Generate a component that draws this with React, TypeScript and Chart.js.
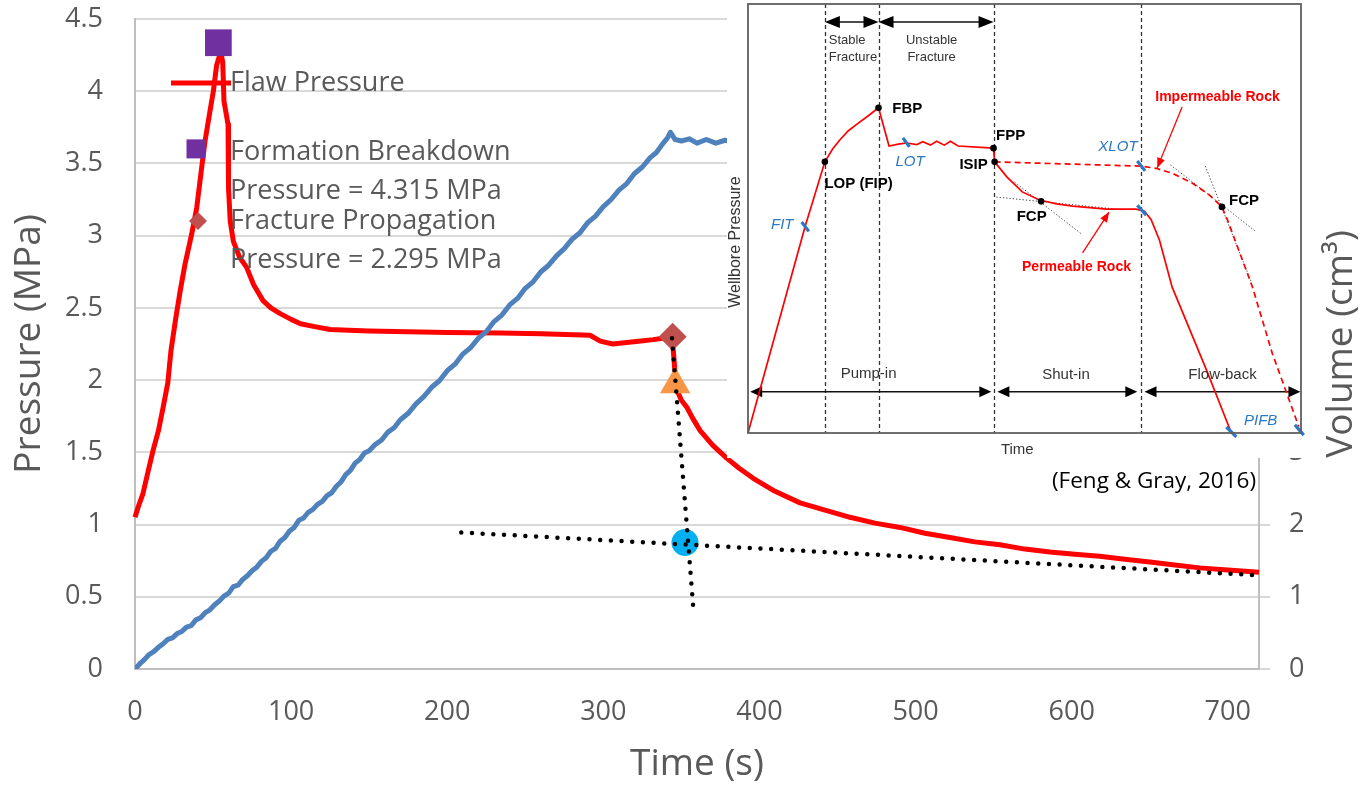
import React, { useEffect, useRef } from 'react';
import { Chart, registerables } from 'chart.js';

Chart.register(...registerables);

// ---------------- main chart data ----------------
const timeTickValues = [0, 100, 200, 300, 400, 500, 600, 700];
const timeTickLabels = ['0', '100', '200', '300', '400', '500', '600', '700'];
const pressureTickValues = [0, 0.5, 1, 1.5, 2, 2.5, 3, 3.5, 4, 4.5];
const pressureTickLabels = ['0', '0.5', '1', '1.5', '2', '2.5', '3', '3.5', '4', '4.5'];
const volumeTickValues = [0, 1, 2, 3, 4, 5, 6, 7, 8, 9];
const volumeTickLabels = ['0', '1', '2', '3', '4', '5', '6', '7', '8', '9'];

const flawTime = [
  0, 2, 5, 8, 11.5, 15, 18, 21, 23, 26, 29, 32, 36.3, 39.5, 42.7, 44.8, 48, 50.2, 52.3, 54, 55.3, 56.2, 57,
  59.6, 59.9, 61, 63, 67, 71.5, 76, 82, 87, 93, 100, 106, 115, 125, 137, 150, 175, 200, 234, 260, 291.5,
  298, 306, 315, 324, 332, 338, 344, 344.7, 346, 347.2, 350, 353.6, 357, 362, 370, 379, 387, 396, 410, 426,
  442, 458, 474, 490, 506, 522, 538, 554, 570, 586, 602, 618, 634, 650, 666, 682, 700, 720,
];
const flawPressure = [
  1.05, 1.12, 1.21, 1.35, 1.51, 1.65, 1.81, 1.98, 2.2, 2.42, 2.62, 2.8, 3.01, 3.19, 3.47, 3.65, 3.86, 4.0, 4.18, 4.24, 4.25, 4.2, 3.93,
  3.77, 3.33, 3.1, 2.96, 2.85, 2.78, 2.66, 2.55, 2.5, 2.46, 2.42, 2.39, 2.37, 2.35, 2.345, 2.34, 2.335, 2.33, 2.325, 2.32, 2.31,
  2.27, 2.25, 2.26, 2.27, 2.28, 2.29, 2.3, 2.22, 2.04, 1.93, 1.86, 1.81, 1.74, 1.65, 1.55, 1.46, 1.39, 1.32, 1.23, 1.15,
  1.1, 1.05, 1.01, 0.98, 0.94, 0.91, 0.88, 0.86, 0.83, 0.81, 0.795, 0.78, 0.76, 0.74, 0.72, 0.7, 0.685, 0.67,
];

const volumeTime = [
  0, 3, 6, 9, 12, 15, 18, 21, 24, 27, 30, 33, 36, 39, 42, 45, 48, 51, 54, 57, 60, 63, 66, 69, 72, 75, 78, 81, 84, 87,
  90, 93, 96, 99, 102, 105, 108, 111, 114, 117, 120, 123, 126, 129, 132, 135, 138, 141, 144, 147, 150, 154, 158, 162,
  166, 170, 175, 180, 185, 190, 195, 200, 205, 210, 215, 220, 225, 230, 235, 240, 245, 250, 255, 260, 265, 270, 275,
  280, 285, 290, 295, 300, 305, 310, 315, 320, 325, 330, 334, 338, 341, 343, 346, 350, 355, 360, 366, 372, 378, 384,
  400, 450, 500, 600, 720,
];
const volumeValues = [
  0, 0.07, 0.13, 0.2, 0.24, 0.3, 0.35, 0.41, 0.43, 0.49, 0.52, 0.58, 0.6, 0.68, 0.71, 0.78, 0.82, 0.89, 0.94, 1.01, 1.05, 1.14, 1.16, 1.24,
  1.29, 1.36, 1.41, 1.49, 1.54, 1.63, 1.67, 1.77, 1.82, 1.91, 1.96, 2.06, 2.09, 2.17, 2.21, 2.28, 2.32, 2.4, 2.44, 2.53, 2.59,
  2.69, 2.75, 2.85, 2.9, 2.99, 3.02, 3.11, 3.17, 3.28, 3.34, 3.45, 3.54, 3.67, 3.77, 3.9, 3.99, 4.13, 4.22, 4.36, 4.45, 4.58,
  4.67, 4.81, 4.9, 5.04, 5.13, 5.27, 5.36, 5.5, 5.59, 5.72, 5.82, 5.95, 6.04, 6.18, 6.27, 6.4, 6.5, 6.63, 6.72, 6.86, 6.95,
  7.08, 7.15, 7.27, 7.35, 7.43, 7.33, 7.31, 7.34, 7.28, 7.33, 7.28, 7.32, 7.29, 7.3, 7.3, 7.3, 7.3, 7.3,
];

const breakdownTime = [53.4];
const breakdownPressure = [4.335];
const propagationTime = [344.4];
const propagationPressure = [2.3];
const closureTime = [346];
const closurePressure = [1.97];
const intersectionTime = [352.3];
const intersectionPressure = [0.876];
const shutInTangentTime = [344, 357.5];
const shutInTangentPressure = [2.29, 0.44];
const lateTangentTime = [209, 717.5];
const lateTangentPressure = [0.945, 0.65];

const legendFlaw = 'Flaw Pressure';
const legendBreakdown = ['Formation Breakdown', 'Pressure = 4.315 MPa'];
const legendPropagation = ['Fracture Propagation', 'Pressure = 2.295 MPa'];
const citation = '(Feng & Gray, 2016)';

// ---------------- inset (schematic) data, arbitrary units 0-100 ----------------
const permeableTime = [
  0, 10.3, 13.9, 15.3, 16.6, 18.1, 19.7, 21.7, 23.6, 25.5, 27.4, 28.7, 30.5, 31.6, 33.0, 34.1, 35.5, 36.6, 38.0,
  44.4, 44.6, 46.8, 49.6, 52.7, 55.8, 58.7, 64.8, 70.2, 71.7, 72.9, 74.4, 76.7, 82.9, 87.2,
];
const permeablePressure = [
  0, 48.0, 63.2, 66.2, 68.3, 70.4, 72.0, 73.9, 75.8, 66.9, 67.4, 67.6, 67.2, 67.9, 67.1, 68.0, 67.1, 68.0, 66.9,
  66.4, 63.2, 59.7, 56.2, 54.3, 53.4, 52.9, 52.2, 52.2, 51.7, 49.7, 45.0, 34.0, 14.7, 0.7,
];
const impermeableTime = [44.6, 71.1, 73.8, 76.8, 80.4, 83.4, 85.7, 86.7, 91.2, 94.8, 99.6];
const impermeablePressure = [63.2, 62.2, 61.7, 60.5, 58.2, 55.5, 52.7, 49.7, 34.1, 18.6, 1.5];

const keyPointTime = [13.9, 23.6, 44.4, 44.6, 53.0, 85.7];
const keyPointPressure = [63.2, 75.8, 66.4, 63.2, 54.0, 52.7];

// short blue marks: start/end of each
const markStartTime = [9.7, 28.0, 70.4, 70.4, 86.5, 98.9];
const markStartPressure = [49.2, 68.8, 63.4, 53.1, 1.4, 1.9];
const markEndTime = [11.0, 29.2, 71.8, 72.0, 88.3, 100.5];
const markEndPressure = [47.0, 66.7, 61.1, 50.8, -0.9, -0.5];

// dotted tangent lines
const tangentStartTime = [44.9, 48.2, 76.4, 82.7];
const tangentStartPressure = [55.0, 58.5, 62.5, 62.2];
const tangentEndTime = [68.1, 60.3, 91.7, 91.0];
const tangentEndPressure = [52.0, 46.4, 47.1, 35.2];

const phaseBoundaries = [13.9, 23.6, 44.4, 71.1];
const topSpanStart = [13.9, 23.6];
const topSpanEnd = [23.6, 44.4];
const topSpanLevel = 95.8;
const bottomSpanStart = [0.4, 45.1, 71.7];
const bottomSpanEnd = [44.0, 70.4, 99.9];
const bottomSpanLevel = 9.6;

const pointerFromTime = [78.5, 60.5];
const pointerFromPressure = [76.0, 42.0];
const pointerToTime = [74.0, 65.3];
const pointerToPressure = [61.8, 51.5];

type InsetText = { text: string; u: number; v: number; kind: string; align?: CanvasTextAlign };
const insetTexts: InsetText[] = [
  { text: 'Stable', u: 14.6, v: 91.4, kind: 'small', align: 'left' },
  { text: 'Fracture', u: 14.6, v: 87.6, kind: 'small', align: 'left' },
  { text: 'Unstable', u: 33.2, v: 91.4, kind: 'small' },
  { text: 'Fracture', u: 33.2, v: 87.6, kind: 'small' },
  { text: 'Pump-in', u: 21.8, v: 13.7, kind: 'phase' },
  { text: 'Shut-in', u: 57.5, v: 13.5, kind: 'phase' },
  { text: 'Flow-back', u: 85.8, v: 13.5, kind: 'phase' },
  { text: 'Time', u: 48.7, v: -4.0, kind: 'phase' },
  { text: 'LOP (FIP)', u: 20.0, v: 58.0, kind: 'point' },
  { text: 'FBP', u: 28.8, v: 75.5, kind: 'point' },
  { text: 'FPP', u: 47.5, v: 69.2, kind: 'point' },
  { text: 'ISIP', u: 40.8, v: 62.6, kind: 'point' },
  { text: 'FCP', u: 51.3, v: 50.4, kind: 'point' },
  { text: 'FCP', u: 89.7, v: 54.1, kind: 'point' },
  { text: 'FIT', u: 6.2, v: 48.5, kind: 'test' },
  { text: 'LOT', u: 29.3, v: 63.1, kind: 'test' },
  { text: 'XLOT', u: 66.9, v: 66.7, kind: 'test' },
  { text: 'PIFB', u: 92.7, v: 2.9, kind: 'test' },
  { text: 'Impermeable Rock', u: 84.9, v: 78.2, kind: 'rock' },
  { text: 'Permeable Rock', u: 59.4, v: 38.6, kind: 'rock' },
];
const insetYTitle = { text: 'Wellbore Pressure', u: -2.3, v: 44.5 };

const FONT = '"Open Sans", sans-serif';
const IFONT = '"Liberation Sans", Arial, sans-serif';
const GREY_TEXT = '#595959';
const BLUE_MARK = '#2a78c6';

function pairs(xs: number[], ys: number[]) {
  return xs.map((x, i) => ({ x, y: ys[i] }));
}

function segments(x1: number[], y1: number[], x2: number[], y2: number[]) {
  const out: any[] = [];
  x1.forEach((x, i) => {
    out.push({ x, y: y1[i] });
    out.push({ x: x2[i], y: y2[i] });
    out.push({ x: x2[i], y: null });
  });
  return out;
}

function arrowHead(ctx: CanvasRenderingContext2D, tipX: number, tipY: number, fromX: number, fromY: number, len: number, half: number) {
  const ang = Math.atan2(tipY - fromY, tipX - fromX);
  const bx = tipX - len * Math.cos(ang);
  const by = tipY - len * Math.sin(ang);
  ctx.beginPath();
  ctx.moveTo(tipX, tipY);
  ctx.lineTo(bx + half * Math.sin(ang), by - half * Math.cos(ang));
  ctx.lineTo(bx - half * Math.sin(ang), by + half * Math.cos(ang));
  ctx.closePath();
  ctx.fill();
}

function doubleArrow(ctx: CanvasRenderingContext2D, x1: number, x2: number, y: number, len: number, half: number) {
  ctx.beginPath();
  ctx.moveTo(x1 + len * 0.5, y);
  ctx.lineTo(x2 - len * 0.5, y);
  ctx.stroke();
  arrowHead(ctx, x1, y, x2, y, len, half);
  arrowHead(ctx, x2, y, x1, y, len, half);
}

const mainDecorPlugin = {
  id: 'mainDecor',
  afterDraw(chart: any) {
    const ctx: CanvasRenderingContext2D = chart.ctx;
    const a = chart.chartArea;
    const lx = a.left;
    const ty = a.top;
    ctx.save();
    // legend symbols
    ctx.strokeStyle = '#ff0000';
    ctx.lineWidth = 5;
    ctx.beginPath();
    ctx.moveTo(lx + 36, ty + 64);
    ctx.lineTo(lx + 96, ty + 64);
    ctx.stroke();
    ctx.fillStyle = '#7030a0';
    ctx.fillRect(lx + 61 - 9.5, ty + 130 - 9.5, 19, 19);
    ctx.fillStyle = '#c0504d';
    ctx.beginPath();
    ctx.moveTo(lx + 63, ty + 202 - 9);
    ctx.lineTo(lx + 72, ty + 202);
    ctx.lineTo(lx + 63, ty + 202 + 9);
    ctx.lineTo(lx + 54, ty + 202);
    ctx.closePath();
    ctx.fill();
    // legend text
    ctx.fillStyle = GREY_TEXT;
    ctx.font = `27px ${FONT}`;
    ctx.textBaseline = 'middle';
    ctx.textAlign = 'left';
    const tx = lx + 95;
    ctx.fillText(legendFlaw, tx, ty + 64);
    ctx.fillText(legendBreakdown[0], tx, ty + 133);
    ctx.fillText(legendBreakdown[1], tx, ty + 172);
    ctx.fillText(legendPropagation[0], tx, ty + 202);
    ctx.fillText(legendPropagation[1], tx, ty + 241);
    // citation
    ctx.fillStyle = '#000000';
    ctx.font = `22.5px ${FONT}`;
    ctx.textAlign = 'center';
    ctx.fillText(citation, 1154, 482);
    // right axis title (reads bottom to top)
    ctx.save();
    ctx.translate(1341, (a.top + a.bottom) / 2);
    ctx.rotate(-Math.PI / 2);
    ctx.fillStyle = GREY_TEXT;
    ctx.font = `37px ${FONT}`;
    ctx.textAlign = 'center';
    ctx.textBaseline = 'middle';
    ctx.fillText('Volume (cm³)', 0, 0);
    ctx.restore();
    ctx.restore();
  },
};

const insetDecorPlugin = {
  id: 'insetDecor',
  beforeDatasetsDraw(chart: any) {
    const ctx: CanvasRenderingContext2D = chart.ctx;
    const a = chart.chartArea;
    const xs = chart.scales.x;
    const ys = chart.scales.y;
    ctx.save();
    // phase boundaries
    ctx.strokeStyle = '#333333';
    ctx.lineWidth = 1.3;
    ctx.setLineDash([4, 3]);
    phaseBoundaries.forEach((u) => {
      const px = Math.round(xs.getPixelForValue(u)) + 0.5;
      ctx.beginPath();
      ctx.moveTo(px, a.top);
      ctx.lineTo(px, a.bottom);
      ctx.stroke();
    });
    ctx.setLineDash([]);
    // phase arrows
    ctx.strokeStyle = '#111111';
    ctx.fillStyle = '#000000';
    ctx.lineWidth = 1.6;
    const yt = ys.getPixelForValue(topSpanLevel);
    topSpanStart.forEach((u, i) => {
      doubleArrow(ctx, xs.getPixelForValue(u), xs.getPixelForValue(topSpanEnd[i]), yt, 15, 6);
    });
    const yb = ys.getPixelForValue(bottomSpanLevel);
    bottomSpanStart.forEach((u, i) => {
      doubleArrow(ctx, xs.getPixelForValue(u), xs.getPixelForValue(bottomSpanEnd[i]), yb, 12, 5.5);
    });
    ctx.restore();
  },
  afterDatasetsDraw(chart: any) {
    const ctx: CanvasRenderingContext2D = chart.ctx;
    const a = chart.chartArea;
    const xs = chart.scales.x;
    const ys = chart.scales.y;
    ctx.save();
    // frame
    ctx.strokeStyle = '#5f5f5f';
    ctx.lineWidth = 1.8;
    ctx.strokeRect(a.left, a.top, a.right - a.left, a.bottom - a.top);
    // red pointer arrows
    ctx.strokeStyle = '#ff0000';
    ctx.fillStyle = '#ff0000';
    ctx.lineWidth = 1.3;
    pointerFromTime.forEach((u, i) => {
      const x1 = xs.getPixelForValue(u);
      const y1 = ys.getPixelForValue(pointerFromPressure[i]);
      const x2 = xs.getPixelForValue(pointerToTime[i]);
      const y2 = ys.getPixelForValue(pointerToPressure[i]);
      ctx.beginPath();
      ctx.moveTo(x1, y1);
      ctx.lineTo(x2, y2);
      ctx.stroke();
      arrowHead(ctx, x2, y2, x1, y1, 10, 4);
    });
    // texts
    ctx.textBaseline = 'middle';
    insetTexts.forEach((t) => {
      let font = `13px ${IFONT}`;
      let color = '#333333';
      if (t.kind === 'phase') font = `15px ${IFONT}`;
      if (t.kind === 'point') { font = `bold 15px ${IFONT}`; color = '#000000'; }
      if (t.kind === 'test') { font = `italic 15px ${IFONT}`; color = BLUE_MARK; }
      if (t.kind === 'rock') { font = `bold 14px ${IFONT}`; color = '#ff0000'; }
      ctx.font = font;
      ctx.fillStyle = color;
      ctx.textAlign = t.align || 'center';
      ctx.fillText(t.text, xs.getPixelForValue(t.u), ys.getPixelForValue(t.v));
    });
    ctx.save();
    ctx.translate(xs.getPixelForValue(insetYTitle.u), ys.getPixelForValue(insetYTitle.v));
    ctx.rotate(-Math.PI / 2);
    ctx.font = `16px ${IFONT}`;
    ctx.fillStyle = '#333333';
    ctx.textAlign = 'center';
    ctx.fillText(insetYTitle.text, 0, 0);
    ctx.restore();
    ctx.restore();
  },
};

export default function App() {
  const mainRef = useRef<HTMLCanvasElement | null>(null);
  const insetRef = useRef<HTMLCanvasElement | null>(null);

  useEffect(() => {
    if (!mainRef.current || !insetRef.current) return;

    const tickFont = { family: FONT, size: 27 };
    const titleFont = { family: FONT, size: 37 };

    const mainChart = new Chart(mainRef.current, {
      type: 'line',
      data: {
        datasets: [
          {
            label: 'shut-in tangent',
            data: pairs(shutInTangentTime, shutInTangentPressure),
            yAxisID: 'y',
            borderColor: '#000000',
            borderWidth: 4.5,
            borderDash: [0, 10.7],
            borderCapStyle: 'round',
            pointRadius: 0,
            clip: false,
          },
          {
            label: 'late tangent',
            data: pairs(lateTangentTime, lateTangentPressure),
            yAxisID: 'y',
            borderColor: '#000000',
            borderWidth: 4.5,
            borderDash: [0, 10.7],
            borderCapStyle: 'round',
            pointRadius: 0,
            clip: false,
          },
          {
            label: 'Formation Breakdown Pressure = 4.315 MPa',
            data: pairs(breakdownTime, breakdownPressure),
            yAxisID: 'y',
            showLine: false,
            pointStyle: 'rect',
            pointRadius: 18.9,
            pointBackgroundColor: '#7030a0',
            pointBorderColor: '#7030a0',
            pointBorderWidth: 0,
            clip: false,
          },
          {
            label: 'Fracture Propagation Pressure = 2.295 MPa',
            data: pairs(propagationTime, propagationPressure),
            yAxisID: 'y',
            showLine: false,
            pointStyle: 'rectRot',
            pointRadius: 14,
            pointBackgroundColor: '#c0504d',
            pointBorderColor: '#c0504d',
            pointBorderWidth: 0,
            clip: false,
          },
          {
            label: 'closure',
            data: pairs(closureTime, closurePressure),
            yAxisID: 'y',
            showLine: false,
            pointStyle: 'triangle',
            pointRadius: 17.5,
            pointBackgroundColor: '#f79646',
            pointBorderColor: '#f79646',
            pointBorderWidth: 0,
            clip: false,
          },
          {
            label: 'intersection',
            data: pairs(intersectionTime, intersectionPressure),
            yAxisID: 'y',
            showLine: false,
            pointStyle: 'circle',
            pointRadius: 13.5,
            pointBackgroundColor: '#00b0f0',
            pointBorderColor: '#00b0f0',
            pointBorderWidth: 0,
            clip: false,
          },
          {
            label: 'Volume',
            data: pairs(volumeTime, volumeValues),
            yAxisID: 'y1',
            borderColor: '#4f81bd',
            borderWidth: 5,
            borderJoinStyle: 'round',
            pointRadius: 0,
          },
          {
            label: 'Flaw Pressure',
            data: pairs(flawTime, flawPressure),
            yAxisID: 'y',
            borderColor: '#ff0000',
            borderWidth: 5,
            borderJoinStyle: 'round',
            pointRadius: 0,
            clip: 6,
          },
        ],
      },
      options: {
        responsive: false,
        animation: false,
        events: [],
        layout: { padding: { top: 17, left: 0, right: 0, bottom: 0 } },
        plugins: { legend: { display: false }, tooltip: { enabled: false } },
        scales: {
          x: {
            type: 'linear',
            min: 0,
            max: 720,
            afterBuildTicks: (s: any) => { s.ticks = timeTickValues.map((v) => ({ value: v })); },
            afterFit: (s: any) => { s.height = 119; },
            grid: { display: false, drawTicks: false },
            border: { display: true, color: '#bfbfbf', width: 2 },
            ticks: {
              padding: 27,
              color: GREY_TEXT,
              font: tickFont,
              maxRotation: 0,
              autoSkip: false,
              callback: (_v: any, i: number) => timeTickLabels[i],
            },
            title: { display: true, text: 'Time (s)', color: GREY_TEXT, font: titleFont, padding: { top: 0, bottom: 1 } },
          },
          y: {
            type: 'linear',
            position: 'left',
            min: 0,
            max: 4.5,
            afterBuildTicks: (s: any) => { s.ticks = pressureTickValues.map((v) => ({ value: v })); },
            afterFit: (s: any) => { s.width = 135; s.paddingTop = 0; s.paddingBottom = 0; },
            grid: { color: '#d9d9d9', lineWidth: 2, drawTicks: false },
            border: { display: true, color: '#bfbfbf', width: 2 },
            ticks: {
              padding: 32,
              color: GREY_TEXT,
              font: tickFont,
              callback: (_v: any, i: number) => pressureTickLabels[i],
            },
            title: { display: true, text: 'Pressure (MPa)', color: GREY_TEXT, font: titleFont, padding: { top: 7, bottom: 0 } },
          },
          y1: {
            type: 'linear',
            position: 'right',
            min: 0,
            max: 9,
            afterBuildTicks: (s: any) => { s.ticks = volumeTickValues.map((v) => ({ value: v })); },
            afterFit: (s: any) => { s.width = 108; s.paddingTop = 0; s.paddingBottom = 0; },
            grid: { drawOnChartArea: false, color: '#d9d9d9', lineWidth: 2, drawTicks: true, tickLength: 11 },
            border: { display: true, color: '#bfbfbf', width: 2 },
            ticks: {
              padding: 19,
              color: GREY_TEXT,
              font: tickFont,
              callback: (_v: any, i: number) => volumeTickLabels[i],
            },
            title: { display: false, text: 'Volume (cm³)' },
          },
        },
      },
      plugins: [mainDecorPlugin],
    } as any);

    const insetChart = new Chart(insetRef.current, {
      type: 'line',
      data: {
        datasets: [
          {
            label: 'key points',
            data: pairs(keyPointTime, keyPointPressure),
            showLine: false,
            pointRadius: 3.3,
            pointBackgroundColor: '#000000',
            pointBorderColor: '#000000',
            pointBorderWidth: 0,
            clip: false,
          },
          {
            label: 'test marks',
            data: segments(markStartTime, markStartPressure, markEndTime, markEndPressure),
            borderColor: BLUE_MARK,
            borderWidth: 3.2,
            pointRadius: 0,
            spanGaps: false,
            clip: false,
          },
          {
            label: 'Permeable Rock',
            data: pairs(permeableTime, permeablePressure),
            borderColor: '#ff0000',
            borderWidth: 1.7,
            pointRadius: 0,
            clip: false,
          },
          {
            label: 'Impermeable Rock',
            data: pairs(impermeableTime, impermeablePressure),
            borderColor: '#ff0000',
            borderWidth: 1.7,
            borderDash: [6, 4],
            pointRadius: 0,
            clip: false,
          },
          {
            label: 'tangents',
            data: segments(tangentStartTime, tangentStartPressure, tangentEndTime, tangentEndPressure),
            borderColor: '#444444',
            borderWidth: 1,
            borderDash: [1.3, 2],
            pointRadius: 0,
            spanGaps: false,
            clip: false,
          },
        ],
      },
      options: {
        responsive: false,
        animation: false,
        events: [],
        layout: { padding: { left: 21, top: 4, right: 3, bottom: 25 } },
        plugins: { legend: { display: false }, tooltip: { enabled: false } },
        scales: {
          x: { type: 'linear', min: 0, max: 100, display: false },
          y: { type: 'linear', min: 0, max: 100, display: false },
        },
      },
      plugins: [insetDecorPlugin],
    } as any);

    return () => {
      mainChart.destroy();
      insetChart.destroy();
    };
  }, []);

  return (
    <div style={{ position: 'fixed', left: 0, top: 0, width: 1367, height: 788, background: '#ffffff', overflow: 'hidden' }}>
      <canvas ref={mainRef} width={1367} height={788} style={{ position: 'absolute', left: 0, top: 0 }} />
      <canvas ref={insetRef} width={578} height={458} style={{ position: 'absolute', left: 727, top: 0, background: '#ffffff' }} />
    </div>
  );
}
